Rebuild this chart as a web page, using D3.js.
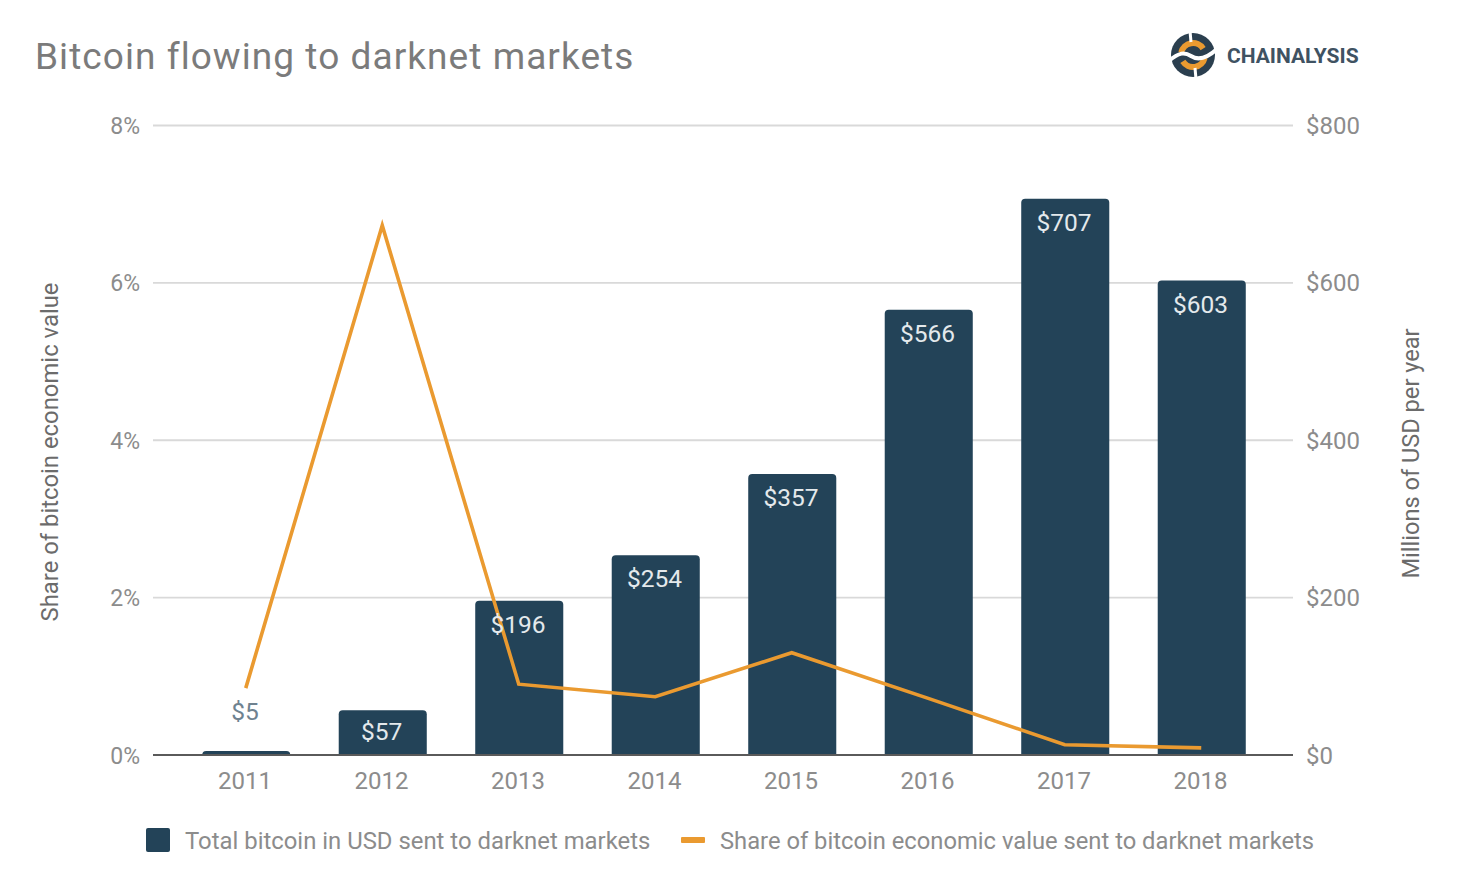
<!DOCTYPE html>
<html><head><meta charset="utf-8">
<script src="https://d3js.org/d3.v7.min.js"></script>
<style>html,body{margin:0;padding:0;background:#fff}svg{display:block}text{font-family:Roboto,sans-serif}</style>
</head><body><svg id="c" width="1458" height="888"></svg>
<script>
const years=["2011","2012","2013","2014","2015","2016","2017","2018"];
const usdMillions=[5,57,196,254,357,566,707,603];
const sharePct=[0.85,6.73,0.9,0.74,1.3,0.72,0.13,0.09];
const leftTicks=[0,2,4,6,8];
const rightTicks=[0,200,400,600,800];
const barName="Total bitcoin in USD sent to darknet markets";
const lineName="Share of bitcoin economic value sent to darknet markets";
const NAVY="#234358",ORANGE="#ea9a30",GREY="#8c8c8c";
const svg=d3.select("#c");
const x=d3.scaleBand().domain(years).range([178,1270]).paddingInner(0.355).paddingOuter(0.1775);
const yL=d3.scaleLinear().domain([0,8]).range([755,125.5]);
const yR=d3.scaleLinear().domain([0,800]).range([755,125.5]);
svg.append("text").attr("x",35).attr("y",69).attr("font-size",37).attr("letter-spacing",1.06).attr("fill","#7b7b7b").text("Bitcoin flowing to darknet markets");
svg.append("g").selectAll("line").data(leftTicks.slice(1)).join("line")
 .attr("x1",153).attr("x2",1293).attr("y1",d=>yL(d)).attr("y2",d=>yL(d)).attr("stroke","#d9d9d9").attr("stroke-width",1.8);
const r=4;
svg.append("g").selectAll("path").data(years).join("path").attr("fill",NAVY).attr("d",(d,i)=>{
  const x0=x(d),w=x.bandwidth(),t=yR(usdMillions[i]),b=yR(0),rr=Math.min(r,b-t);
  return `M${x0},${b}V${t+rr}Q${x0},${t} ${x0+rr},${t}H${x0+w-rr}Q${x0+w},${t} ${x0+w},${t+rr}V${b}Z`;});
svg.append("line").attr("x1",153).attr("x2",1293).attr("y1",755).attr("y2",755).attr("stroke","#5a5a5a").attr("stroke-width",2);
const line=d3.line().x((d,i)=>x(years[i])+x.bandwidth()/2-0.5).y(d=>yL(d));
svg.append("path").datum(sharePct).attr("fill","none").attr("stroke",ORANGE).attr("stroke-width",3.6).attr("d",line);
svg.append("g").selectAll("text").data(years).join("text")
 .attr("x",d=>x(d)+x.bandwidth()/2-1.2)
 .attr("y",(d,i)=>i==0?yR(usdMillions[i])-31:yR(usdMillions[i])+(i==1?30:32))
 .attr("text-anchor","middle").attr("font-size",24.5)
 .attr("fill",(d,i)=>i==0?"#6f8290":"#e4e9ec").text((d,i)=>"$"+usdMillions[i]);
svg.append("g").selectAll("text").data(years).join("text")
 .attr("x",d=>x(d)+x.bandwidth()/2-1.2).attr("y",789).attr("text-anchor","middle").attr("font-size",24).attr("fill",GREY).text(d=>d);
svg.append("g").selectAll("text").data(leftTicks).join("text").attr("x",140).attr("y",d=>yL(d)+8.5).attr("text-anchor","end").attr("font-size",23).attr("fill",GREY).text(d=>d+"%");
svg.append("g").selectAll("text").data(rightTicks).join("text").attr("x",1306).attr("y",d=>yR(d)+8.5).attr("font-size",24).attr("fill",GREY).text(d=>"$"+d);
svg.append("text").attr("transform","translate(58,452) rotate(-90)").attr("text-anchor","middle").attr("font-size",23.85).attr("fill","#6b6b6b").text("Share of bitcoin economic value");
svg.append("text").attr("transform","translate(1419,453.5) rotate(-90)").attr("text-anchor","middle").attr("font-size",23.6).attr("fill","#6b6b6b").text("Millions of USD per year");
svg.append("rect").attr("x",146).attr("y",828).attr("width",24).attr("height",24).attr("rx",2).attr("fill",NAVY);
svg.append("text").attr("x",185).attr("y",849).attr("font-size",23.88).attr("fill",GREY).text(barName);
svg.append("rect").attr("x",681).attr("y",837).attr("width",24).attr("height",6).attr("rx",1).attr("fill",ORANGE);
svg.append("text").attr("x",720).attr("y",849).attr("font-size",23.76).attr("fill",GREY).text(lineName);
// logo
const logo=svg.append("g").attr("transform","translate(1193,55)");
const arc=d3.arc();
logo.append("circle").attr("r",22).attr("fill","#2b3f4f");
[[-1.35,1.0],[1.8,4.15]].forEach(a=>logo.append("path").attr("fill",ORANGE).attr("d",arc({innerRadius:9,outerRadius:15,startAngle:a[0],endAngle:a[1]})));
logo.append("path").attr("d","M-24,6C-14,-3 -8,-3 -2,1C4,5 12,5 24,-6").attr("stroke","#fff").attr("stroke-width",4).attr("fill","none");
logo.append("path").attr("d","M-3,-24L-2,-13M3,24L2,13").attr("stroke","#fff").attr("stroke-width",3).attr("fill","none");
svg.append("text").attr("x",1227).attr("y",63).attr("font-size",21).attr("font-weight",700).attr("fill","#3f5262").text("CHAINALYSIS");
</script></body></html>
